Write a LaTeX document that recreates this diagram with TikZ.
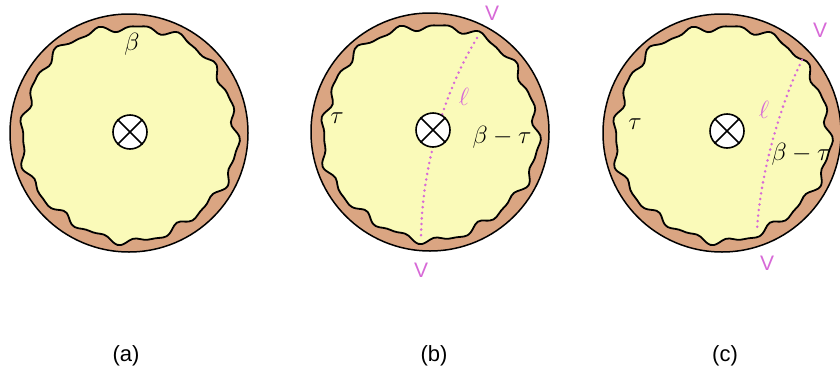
\documentclass[tikz,border=0pt]{standalone}
\usepackage{fontspec}
\setsansfont{Liberation Sans}
\definecolor{ringtan}{RGB}{218,165,130}
\definecolor{paleyel}{RGB}{250,250,185}
\definecolor{orchidpink}{RGB}{215,105,215}
\newcommand\blobshape[2]{%
  plot[domain=0:358,samples=180,smooth cycle,variable=\t]
  ({#1+(107+2.8*sin(16*\t)+1.4*sin(27*\t+40)+1.8*sin(5*\t+10))*cos(\t)},
   {#2+(107+2.8*sin(16*\t)+1.4*sin(27*\t+40)+1.8*sin(5*\t+10))*sin(\t)})}
\tikzset{
  outerring/.style={fill=ringtan,draw=black,line width=1.5pt},
  innerblob/.style={fill=paleyel,draw=black,line width=1.8pt},
  otimesnode/.style={circle,draw=black,fill=white,line width=1.6pt,minimum size=34pt,inner sep=0pt},
  mathlab/.style={font=\fontsize{25}{30}\selectfont,inner sep=0pt},
  vlab/.style={font=\sffamily\fontsize{21}{24}\selectfont,text=orchidpink,inner sep=0pt},
  caplab/.style={font=\sffamily\fontsize{22}{26}\selectfont,inner sep=0pt},
  dotline/.style={draw=orchidpink,line width=2.8pt,line cap=round,dash pattern=on 0pt off 5.6pt},
}
\begin{document}
\begin{tikzpicture}[x=1pt,y=-1pt]
\useasboundingbox (0,0) rectangle (840,370);
% (a)
\draw[outerring] (129,133) circle (119);
\draw[innerblob] \blobshape{129}{133};
\node[otimesnode] (xa) at (130,132) {};
\draw[line width=1.6pt] (xa.north east) -- (xa.south west) (xa.north west) -- (xa.south east);
\node[mathlab] (beta) at (132,44) {$\beta$};
\node[caplab] (capa) at (126,356) {(a)};
% (b)
\draw[outerring] (430,132) circle (119);
\draw[innerblob] \blobshape{430}{132};
\coordinate (ltopb) at (477,38);
\coordinate (lbotb) at (421,237);
\draw[dotline] (ltopb) .. controls (445,90) and (422,165) .. (lbotb);
\node[otimesnode] (xb) at (433,130) {};
\draw[line width=1.6pt] (xb.north east) -- (xb.south west) (xb.north west) -- (xb.south east);
\node[mathlab] (taub) at (337,118) {$\tau$};
\node[mathlab] (btb) at (502,137) {$\beta-\tau$};
\node[mathlab,text=orchidpink] (ellb) at (464,97) {$\ell$};
\node[vlab] (vtopb) at (492,13) {V};
\node[vlab] (vbotb) at (421,270) {V};
\node[caplab] (capb) at (434,356) {(b)};
% (c)
\draw[outerring] (722,133) circle (119);
\draw[innerblob] \blobshape{722}{133};
\coordinate (ltopc) at (802,60);
\coordinate (lbotc) at (757,230);
\draw[dotline] (ltopc) .. controls (780,105) and (760,175) .. (lbotc);
\node[otimesnode] (xc) at (727,131) {};
\draw[line width=1.6pt] (xc.north east) -- (xc.south west) (xc.north west) -- (xc.south east);
\node[mathlab] (tauc) at (635,124) {$\tau$};
\node[mathlab] (btc) at (801,154) {$\beta-\tau$};
\node[mathlab,text=orchidpink] (ellc) at (764,110) {$\ell$};
\node[vlab] (vtopc) at (820,30) {V};
\node[vlab] (vbotc) at (767,263) {V};
\node[caplab] (capc) at (725,356) {(c)};
\end{tikzpicture}
\end{document}
